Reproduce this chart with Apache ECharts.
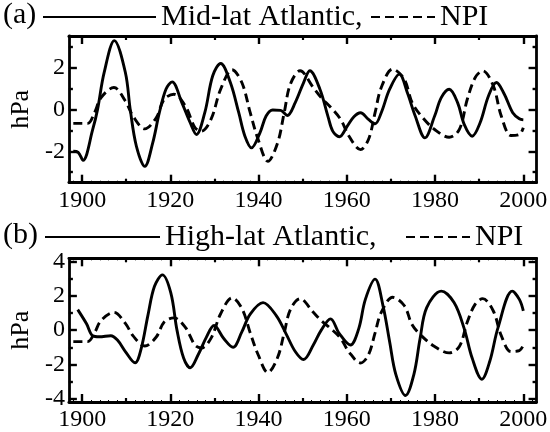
<!DOCTYPE html>
<html>
<head>
<meta charset="utf-8">
<title>Atlantic and NPI pressure indices</title>
<script src="https://cdn.jsdelivr.net/npm/echarts@6/dist/echarts.min.js"></script>
<style>
  html, body { margin: 0; padding: 0; background: #fff; }
  #chart { width: 550px; height: 432px; }
</style>
</head>
<body>
<div id="chart"></div>
<script>
// Filtered sea-level-pressure indices, hPa, as [year, value] samples
const midLatAtlantic = [
  [1898.0, -2.0], [1899.1, -2.05], [1900.2, -2.43], [1902.4, -0.96], [1903.5, 0.0],
  [1905.0, 1.76], [1907.3, 3.28], [1909.8, 1.76], [1910.9, 0.0], [1912.3, -1.76],
  [1914.2, -2.72], [1916.0, -1.6], [1917.5, -0.16], [1919.0, 0.96], [1920.4, 1.31],
  [1922.6, 0.32], [1924.5, -0.64], [1925.9, -1.2], [1927.8, -0.16], [1929.6, 1.6],
  [1931.4, 2.19], [1933.6, 1.28], [1935.5, -0.16], [1936.9, -1.28], [1938.4, -1.84],
  [1940.3, -1.12], [1941.7, -0.32], [1943.2, -0.03], [1945.0, -0.05], [1946.5, -0.29],
  [1948.3, 0.32], [1950.2, 1.28], [1951.6, 1.84], [1953.9, 0.96], [1955.7, -0.32],
  [1956.8, -1.04], [1958.3, -1.31], [1960.1, -0.8], [1961.6, -0.35], [1963.1, -0.16],
  [1964.9, -0.48], [1966.4, -0.69], [1967.8, -0.16], [1969.7, 0.96], [1971.9, 1.68],
  [1973.7, 0.8], [1975.5, -0.32], [1977.7, -1.36], [1979.9, -0.32], [1981.4, 0.56],
  [1983.2, 0.96], [1985.1, 0.32], [1986.6, -0.72], [1988.4, -1.28], [1990.2, -0.64],
  [1992.1, 0.64], [1993.9, 1.28], [1995.7, 0.72], [1997.6, -0.16], [1999.1, -0.45],
  [2000.0, -0.5]
];

const highLatAtlantic = [
  [1899.0, 1.2], [1901.0, 0.37], [1902.4, -0.33], [1903.9, -0.39], [1906.5, -0.33],
  [1908.0, -0.58], [1909.8, -1.25], [1912.0, -1.91], [1913.4, -1.06], [1914.9, 0.85],
  [1916.4, 2.56], [1918.2, 3.23], [1920.1, 2.18], [1921.5, 0.0], [1923.0, -1.63],
  [1924.5, -2.2], [1926.3, -1.44], [1928.2, -0.39], [1929.9, 0.27], [1932.1, -0.49],
  [1934.2, -1.0], [1936.2, -0.1], [1938.1, 0.94], [1941.0, 1.61], [1944.0, 0.85],
  [1946.2, -0.2], [1948.3, -1.25], [1950.2, -1.72], [1952.4, -0.87], [1954.2, 0.0],
  [1956.3, 0.66], [1958.3, -0.2], [1960.8, -0.87], [1962.7, 0.09], [1964.2, 1.8],
  [1966.4, 2.98], [1968.2, 1.42], [1969.7, -0.68], [1971.1, -2.58], [1973.3, -3.82],
  [1975.2, -2.58], [1976.6, -0.49], [1978.1, 1.32], [1981.4, 2.28], [1984.3, 1.61],
  [1986.6, 0.09], [1988.4, -1.63], [1990.6, -2.87], [1992.4, -1.82], [1994.3, 0.18],
  [1997.5, 2.28], [1999.1, 1.8], [2000.0, 1.13]
];

const npi = [
  [1898.0, -0.67], [1899.6, -0.67], [1901.3, -0.67], [1902.8, -0.16], [1904.3, 0.56],
  [1907.2, 1.04], [1909.8, 0.4], [1911.6, -0.35], [1914.2, -0.93], [1916.8, -0.4],
  [1918.6, 0.48], [1920.8, 0.72], [1923.4, 0.16], [1925.6, -0.88], [1927.0, -1.04],
  [1929.2, -0.48], [1931.4, 0.96], [1934.0, 1.89], [1936.2, 1.28], [1938.1, -0.16],
  [1939.9, -1.44], [1942.1, -2.48], [1944.3, -1.6], [1945.8, -0.16], [1947.2, 1.2],
  [1949.4, 1.84], [1952.4, 1.04], [1954.2, 0.56], [1956.4, 0.08], [1958.6, -0.48],
  [1960.5, -1.28], [1963.1, -1.92], [1964.9, -1.44], [1966.4, -0.16], [1967.8, 1.04],
  [1970.4, 1.92], [1973.0, 1.44], [1974.8, 0.32], [1977.0, -0.35], [1979.9, -0.96],
  [1983.2, -1.33], [1985.5, -0.96], [1987.3, 0.48], [1989.1, 1.52], [1990.8, 1.84],
  [1993.2, 1.12], [1995.0, -0.32], [1997.2, -1.25], [1999.1, -1.2], [2000.0, -0.88]
];

// Axis ticks and labels
const yearLabels = [1900, 1920, 1940, 1960, 1980, 2000];
const decadeTicks = [1910, 1930, 1950, 1970, 1990];
const topPanelLabels = [-2, 0, 2];
const bottomPanelLabels = [-4, -2, 0, 2, 4];
const oddTicks = [-3, -1, 1, 3];

const twoYearTicks = [];
for (let y = 1898; y <= 2002; y += 2) twoYearTicks.push(y);

const SERIF = 'Liberation Serif';
const INK = '#000';
const X_MIN = 1897, X_MAX = 2003;

function xAxisSet(gridIndex) {
  const base = {
    type: 'value', gridIndex, min: X_MIN, max: X_MAX,
    splitLine: { show: false }, axisLabel: { show: false },
    axisLine: { show: false, onZero: false }
  };
  const tick = (values, len, w) => ({
    show: true, inside: true, length: len, customValues: values,
    lineStyle: { color: INK, width: w }
  });
  return [
    Object.assign({}, base, {
      position: 'bottom',
      axisLine: { show: true, onZero: false, lineStyle: { color: INK, width: 2.8 } },
      axisTick: tick(yearLabels, 8, 2.4),
      axisLabel: {
        show: true, customValues: yearLabels, margin: 6,
        formatter: v => String(v),
        color: INK, fontFamily: SERIF, fontSize: 24
      }
    }),
    Object.assign({}, base, { position: 'bottom', axisTick: tick(decadeTicks, 4, 2.2) }),
    Object.assign({}, base, { position: 'bottom', axisTick: tick(twoYearTicks, 2, 1) }),
    Object.assign({}, base, {
      position: 'top',
      axisLine: { show: true, onZero: false, lineStyle: { color: INK, width: 2.8 } },
      axisTick: tick(yearLabels, 8, 2.4)
    }),
    Object.assign({}, base, { position: 'top', axisTick: tick(decadeTicks, 4, 2.2) }),
    Object.assign({}, base, { position: 'top', axisTick: tick(twoYearTicks, 2, 1) })
  ];
}

function yAxisSet(gridIndex, min, max, labels) {
  const base = {
    type: 'value', gridIndex, min, max,
    splitLine: { show: false }, axisLabel: { show: false },
    axisLine: { show: false, onZero: false }
  };
  const tick = (values, len) => ({
    show: true, inside: true, length: len, customValues: values,
    lineStyle: { color: INK, width: 2.4 }
  });
  return [
    Object.assign({}, base, {
      position: 'left',
      name: 'hPa', nameLocation: 'middle', nameGap: 28, nameRotate: 90,
      nameTextStyle: { color: INK, fontFamily: SERIF, fontSize: 26 },
      axisLine: { show: true, onZero: false, lineStyle: { color: INK, width: 2.8 } },
      axisTick: tick(labels, 8),
      axisLabel: {
        show: true, customValues: labels, margin: 4,
        formatter: v => String(v),
        color: INK, fontFamily: SERIF, fontSize: 24
      }
    }),
    Object.assign({}, base, { position: 'left', axisTick: tick(oddTicks, 4) }),
    Object.assign({}, base, {
      position: 'right',
      axisLine: { show: true, onZero: false, lineStyle: { color: INK, width: 2.8 } },
      axisTick: tick(labels, 8)
    }),
    Object.assign({}, base, { position: 'right', axisTick: tick(oddTicks, 4) })
  ];
}

function lineSeries(name, data, xIdx, yIdx, dashed) {
  return {
    type: 'line', name, data, xAxisIndex: xIdx, yAxisIndex: yIdx,
    showSymbol: false, symbol: 'none', smooth: 0.35,
    lineStyle: { color: INK, width: 2.9, type: dashed ? [9, 5] : 'solid' },
    itemStyle: { color: INK },
    emphasis: { disabled: true }
  };
}

const legendText = { color: INK, fontFamily: SERIF, fontSize: 30 };
const legendBase = {
  padding: 0, itemHeight: 14, selectedMode: false,
  itemStyle: { opacity: 0 }, textStyle: legendText
};

const option = {
  backgroundColor: '#fff',
  animation: false,
  title: [
    { text: '(a)', left: 3, top: 0, padding: 0, textStyle: Object.assign({ fontWeight: 'normal' }, legendText) },
    { text: '(b)', left: 3, top: 220, padding: 0, textStyle: Object.assign({ fontWeight: 'normal' }, legendText) }
  ],
  legend: [
    Object.assign({ data: ['Mid-lat Atlantic'], left: 42, top: 2, itemWidth: 113,
      formatter: n => n + ',' }, legendBase),
    Object.assign({ data: ['NPI'], left: 370, top: 2, itemWidth: 64 }, legendBase),
    Object.assign({ data: ['High-lat Atlantic'], left: 44, top: 222, itemWidth: 115,
      formatter: n => n + ',' }, legendBase),
    Object.assign({ data: ['NPI'], left: 405, top: 222, itemWidth: 64 }, legendBase)
  ],
  grid: [
    { left: 57.5, right: 11.7, top: 36, height: 146.7 },
    { left: 57.5, right: 11.7, top: 258.3, height: 146 }
  ],
  xAxis: xAxisSet(0).concat(xAxisSet(1)),
  yAxis: yAxisSet(0, -3.5, 3.5, topPanelLabels).concat(yAxisSet(1, -4.2, 4.2, bottomPanelLabels)),
  series: [
    lineSeries('Mid-lat Atlantic', midLatAtlantic, 0, 0, false),
    lineSeries('NPI', npi, 0, 0, true),
    lineSeries('High-lat Atlantic', highLatAtlantic, 6, 4, false),
    lineSeries('NPI', npi, 6, 4, true)
  ]
};

const chart = echarts.init(document.getElementById('chart'), null, { renderer: 'canvas' });
chart.setOption(option);
</script>
</body>
</html>
